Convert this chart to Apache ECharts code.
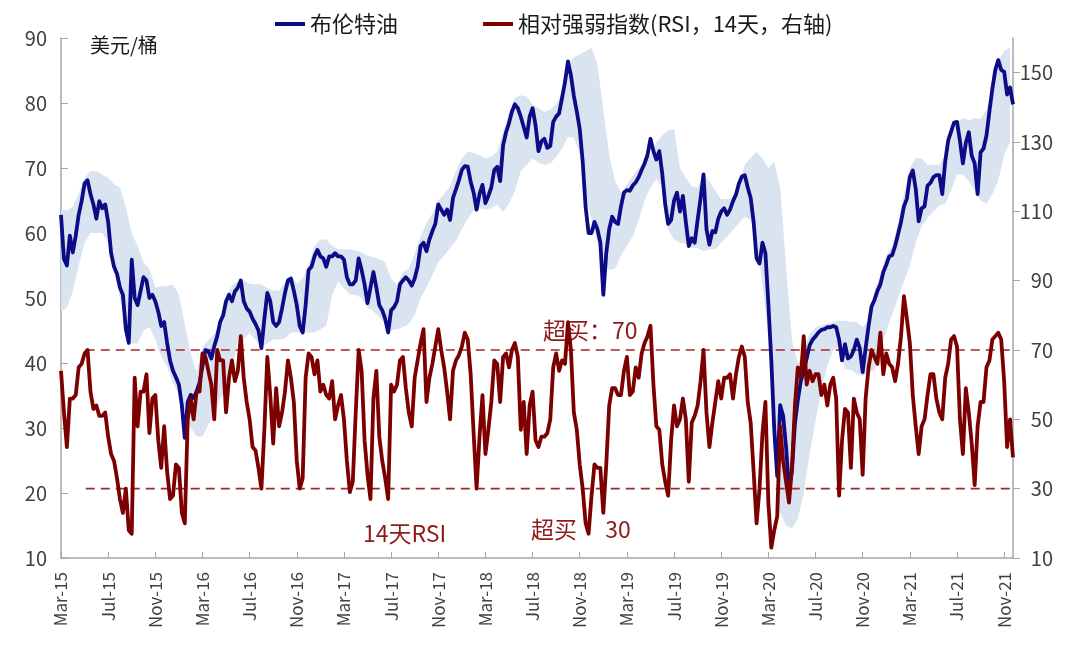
<!DOCTYPE html>
<html><head><meta charset="utf-8">
<script src="https://cdn.jsdelivr.net/npm/echarts@6/dist/echarts.min.js"></script>
<style>html,body{margin:0;padding:0;background:#fff}#c{width:1080px;height:663px}</style>
</head><body><div id="c"></div>
<script>
// x positions are months since 1 Mar 2015 (Brent / RSI read every quarter month, band every half month)
const tickLabels = ['Mar-15','Jul-15','Nov-15','Mar-16','Jul-16','Nov-16','Mar-17','Jul-17','Nov-17','Mar-18','Jul-18','Nov-18','Mar-19','Jul-19','Nov-19','Mar-20','Jul-20','Nov-20','Mar-21','Jul-21','Nov-21'];
const STEP = 0.25;
const BAND_STEP = 0.5;
const X_MAX = 80.75;

// Brent, USD/bbl (left axis)
const brent = [
62.8,56,55,59.6, 57,59.6,62.8,64.9, 67.6,68.1,66,64.4, 62.2,64.9,63.8,64.4,
61.7,56.9,54.8,53.7, 51.6,50.5,45.2,43.1, 55.9,50,48.9,51.1, 53.2,52.7,50,50.5,
49.5,47.9,45.7,46.3, 43.1,40.4,38.8,37.8, 36.7,33.5,28.5,34, 35.1,34.6,35.6,37,
39.5,42,41.8,40.7, 42.6,44.1,46.3,47.3, 49.5,50.5,49.5,51, 51.6,52.7,49.5,48.4,
47.9,46.8,46,45, 42.3,46.8,50.8,49.5, 46.3,45.7,46.3,48.4, 50.8,52.7,53,51.1,
48.9,45.7,44.7,48.9, 54.3,54.8,56.4,57.4, 56.4,56.1,54.8,56.4, 56.4,56.9,56.4,56.4,
55.9,53.2,52.1,52.1, 52.7,56.1,54.3,52.1, 49.2,51.6,54,51.6, 48.9,48.1,46.8,44.7,
48.1,48.6,49.5,52.1, 52.7,53.2,52.7,51.9, 53,54.8,58,58.5, 57.2,59,60.3,61.4,
64.4,63.6,62.8,63.6, 62,65.4,66.7,68.1, 69.7,70.3,70.2,67.9, 66.2,63.6,66,67.4,
64.6,65.7,67,69.7, 70.2,68,73.5,75.5, 76.9,78.7,79.8,79.2, 77.9,76.3,74.7,77.9,
79.2,76.6,72.6,74.1, 74.5,73.1,73.4,77.1, 77.9,78.4,80.8,83.2, 86.4,84.3,81.1,78.7,
76,71,64,60, 60,61.7,60.6,58.5, 50.5,56.9,60.6,62.5, 61.7,61.4,64.1,66.2,
66.6,66.5,67.3,67.8, 68.6,69.7,70.7,72, 74.5,72.6,71.3,72.6, 69.1,64.4,61.4,62,
65,66.2,63.3,65.7, 61.7,58,59.2,58.5, 62,65.4,69,60.6, 58.2,60.3,60.1,62.2,
63.3,63.8,62.8,63.6, 64.9,65.9,67.6,68.7, 68.9,67,65.4,61.7, 56.1,55.3,58.5,56.9,
49.1,40.4,29.8,22.6, 33.5,31.9,27.1,20.7, 23.4,30.6,34.3,37.2, 38.7,40.7,42.7,43.6,
44.1,44.7,45.1,45.2, 45.5,45.5,45.7,45.5, 43.6,40.4,42.9,40.7, 41,42,43.6,42.3,
38.6,42.3,45.7,48.7, 49.7,51.1,52.1,54, 55.1,56.4,56.6,58, 59.8,61.7,64.1,65.3,
68.6,69.6,66.8,61.8, 63.8,64.1,67.3,67.7, 68.6,68.9,68.9,66, 71,74.2,75.6,77,
77.1,74.2,70.7,73.9, 75.5,71.9,70.7,66, 72.4,73,75,78.7, 82.2,85.1,86.6,85.1,
84.8,81.3,82.4,79.8
];

// RSI, 14 days (right axis)
const rsi = [
64,52,42,56, 56,57,65,66, 69,70,58,53, 54,51,51,52,
45,40,38,33, 27,23,30,18, 17,62,48,58, 58,63,46,56,
57,44,36,48, 35,27,28,37, 36,23,20,50, 56,50,58,58,
69,68,64,60, 50,70,67,67, 52,62,67,61, 64,74,62,55,
50,42,41,36, 30,47,68,57, 43,59,48,52, 58,67,62,55,
38,30,33,62, 69,68,63,67, 58,60,57,56, 61,50,54,57,
50,38,29,32, 52,70,64,44, 34,27,56,64, 45,38,33,27,
60,58,60,67, 68,59,52,48, 62,67,72,76, 55,62,66,71,
76,70,65,58, 50,64,67,68.5, 71,75,73,63, 46,30,45,57,
40,47,55,67, 66,55,68,69, 65,70,72,68, 47,55,40,54,
58,44,42,45, 45,46,50,65, 69,64,67,66, 78,70,52,47,
37,30,20,17, 28,37,36,36, 23,37,54,59, 59,57,57,64,
68,57,58,65, 62,69,72,74, 77,60,48,47, 37,32,28,44,
54,48,50,56, 50,32,49,51, 54,61,70,52, 42,49,55,61,
56,62,62,63, 56,63,68,71, 68,55,49,35, 20,30,46,55,
26,13,18,22, 48,38,32,26, 36,54,65,62, 74,60,64,61,
63,63,57,60, 54,60,62,56, 28,44,53,52, 36,56,52,50,
34,56,65,70, 68,66,75,63, 69,66,65,61, 66,74,85.5,79,
72,57,48,40, 48,50,57,63, 63,56,52,50, 62,66,73,74,
71,50,40,59, 52,43,31,48, 55,55,65,67, 73,74,75,73,
61,42,50,39
];

// light blue band (left axis), upper and lower edges
const bandUpper = [
63.5,63.5,64,66,68.5,69.5,69.5,69,68.5,67.5,67,64,60,58,55.5,54.5,
51.6,51.8,51.9,52.1,50.5,46,41.5,38.5,42.5,43.5,44.5,46,50,52,52.5,52.7,
52.2,52.1,52.1,51.5,51.1,51.1,52.5,53.5,52.2,53,55,58,59,59,58,57.5,
57.5,57.5,57.3,57,56.5,56.3,56,55.5,53,52,54,54.5,56.8,59.5,61.5,63,
65,66,67.2,69.5,71.5,72.5,72.3,72,71.5,71.8,72.5,75.5,78.5,80.8,81.2,81,
79.8,79.2,78.6,79,79.8,81.5,86,87,87.5,88,88.5,86,79,72,68,66.2,
67.5,68.8,70,71,72,74,75,75.8,76,70,68.5,67.2,67,69,68,66.5,
65.2,65.2,65.5,67.5,70.5,71.5,72.5,71.5,70,71,67,55,43.5,40,42,44.5,
45.5,45.8,46,46.3,46.5,46.5,46.3,46.3,45.5,46.5,51,53.5,56.5,58,61.5,66,
70,71.5,71.5,70.5,70.5,70.5,72,74.7,77,77.7,77.3,77.7,77.5,79,82.5,86.5,
88,88.5
];
const bandLower = [
48,48.5,51,55,58.5,60,60,60,58.5,54.5,50,46.5,43,43,45,45.5,
43.6,41,39.5,37,35.2,32.5,30,28.7,28.7,30.5,32,34.5,36,38.5,43.6,43.6,
44.6,43.5,42.5,43,43.6,43.6,43.8,44.7,44.7,44.7,44.7,44.7,45.2,45.7,50.5,52.5,
51.5,50.5,50.5,50,48.5,48,47,46,45,45.2,45.5,46,47.4,50,51.6,53.5,
55.5,56.5,57.7,58.8,60.6,62.2,63.5,63.8,63.6,63.8,64.4,63.2,64.5,66.5,69.5,70.5,
71.5,70.8,70.5,70.7,71.7,73,74.8,74.6,72.3,66,62,58.5,55.5,54.3,54.5,56.5,
58,59.5,62,65,67,68.3,67,60.5,59,58.5,58.3,57.7,57.7,57.2,57.5,57.5,
58.5,59.5,60.5,61.5,62.5,62,59,52,44,26,17,15,14.5,16,20,26,
31,36,39.5,42,42.5,39,39,38.3,38,38.5,39,42,45,47.5,50,52.5,
55,58.5,61,62.3,63.3,64.2,64.5,66.5,69,69,68,66.5,65,64.5,66,68,
72,74
];

const rsiLevels = [70, 30];
const REF_START = 2.1;

const FONT = '"Noto Sans CJK SC","Noto Sans",sans-serif';
const RED = '#7d0000';
const NAVY = '#0c0c86';
const LABEL_RED = '#8e1b1b';
const BAND_COLOR = '#dae4f1';

const brentData = brent.map((v, i) => [i * STEP, v]);
const rsiData = rsi.map((v, i) => [i * STEP, v]);
const bandData = bandUpper.map((v, i) => [i * BAND_STEP, v, bandLower[i]]);

const refSeries = rsiLevels.map(lvl => ({
  type: 'line', yAxisIndex: 1, silent: true, symbol: 'none', z: 3,
  data: [[REF_START, lvl], [X_MAX, lvl]],
  lineStyle: { color: '#9e2a2a', width: 1.6, type: [9, 6] }
}));

function renderBand(params, api) {
  if (params.dataIndex !== 0) return null;
  const pts = [];
  for (let i = 0; i < bandData.length; i++) pts.push(api.coord([bandData[i][0], bandData[i][1]]));
  for (let i = bandData.length - 1; i >= 0; i--) pts.push(api.coord([bandData[i][0], bandData[i][2]]));
  return { type: 'polygon', shape: { points: pts }, style: { fill: BAND_COLOR, stroke: null } };
}

const chart = echarts.init(document.getElementById('c'));
chart.setOption({
  animation: false,
  backgroundColor: '#ffffff',
  textStyle: { fontFamily: FONT },
  grid: { left: 61, right: 67, top: 38, bottom: 105, containLabel: false },
  legend: {
    data: ['布伦特油', '相对强弱指数(RSI，14天，右轴)'],
    left: 270, top: 8, itemWidth: 30, itemHeight: 4, itemGap: 85, icon: 'rect',
    selectedMode: false,
    textStyle: { fontFamily: FONT, fontSize: 22, color: '#1a1a1a' }
  },
  xAxis: {
    type: 'value', min: 0, max: X_MAX, interval: 4,
    axisLine: { show: true, lineStyle: { color: '#a6a6a6', width: 1.5 } },
    axisTick: { show: true, inside: true, length: 6, lineStyle: { color: '#a6a6a6' } },
    splitLine: { show: false },
    axisLabel: {
      rotate: 90, fontSize: 17, color: '#404040', fontFamily: FONT, margin: 14,
      showMaxLabel: false,
      formatter: v => (v % 4 === 0 && tickLabels[v / 4]) ? tickLabels[v / 4] : ''
    }
  },
  yAxis: [
    {
      type: 'value', min: 10, max: 90, interval: 10, position: 'left',
      axisLine: { show: true, lineStyle: { color: '#a6a6a6', width: 1.5 } },
      axisTick: { show: true, inside: true, length: 7, lineStyle: { color: '#a6a6a6' } },
      splitLine: { show: false },
      axisLabel: { fontSize: 20, color: '#404040', fontFamily: FONT, margin: 14 }
    },
    {
      type: 'value', min: 10, max: 160, interval: 20, position: 'right',
      axisLine: { show: true, lineStyle: { color: '#a6a6a6', width: 1.5 } },
      axisTick: { show: true, inside: false, length: 7, lineStyle: { color: '#a6a6a6' } },
      splitLine: { show: false },
      axisLabel: { fontSize: 20, color: '#404040', fontFamily: FONT, margin: 40, align: 'right', showMaxLabel: false,
        formatter: v => (v === 160 ? '' : String(v)) }
    }
  ],
  series: [
    { name: 'band', type: 'custom', yAxisIndex: 0, silent: true, z: 1, clip: true,
      data: bandData, encode: { x: 0, y: [1, 2] }, renderItem: renderBand },
    ...refSeries,
    { name: '布伦特油', type: 'line', yAxisIndex: 0, symbol: 'none', z: 4, color: NAVY,
      data: brentData, lineStyle: { color: NAVY, width: 3.8, join: 'round' } },
    { name: '相对强弱指数(RSI，14天，右轴)', type: 'line', yAxisIndex: 1, symbol: 'none', z: 5, color: RED,
      data: rsiData, lineStyle: { color: RED, width: 3.8, join: 'round' } }
  ],
  graphic: [
    { type: 'text', left: 90, top: 35, style: { text: '美元/桶', fontSize: 20, fill: '#1a1a1a', fontFamily: FONT } },
    { type: 'text', left: 543, top: 319, style: { text: '超买：70', fontSize: 23, fill: LABEL_RED, fontFamily: FONT } },
    { type: 'text', left: 531, top: 518, style: { text: '超买\u3000 30', fontSize: 23, fill: LABEL_RED, fontFamily: FONT } },
    { type: 'text', left: 363, top: 522, style: { text: '14天RSI', fontSize: 23, fill: LABEL_RED, fontFamily: FONT } }
  ]
});
</script></body></html>
